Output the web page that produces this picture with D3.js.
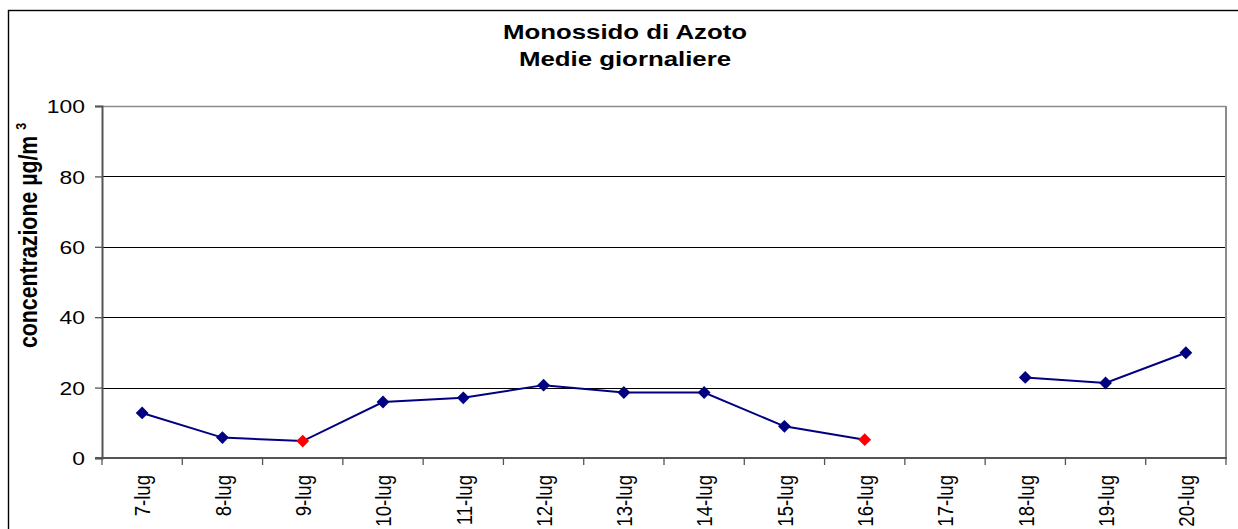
<!DOCTYPE html>
<html><head><meta charset="utf-8">
<script src="https://cdn.jsdelivr.net/npm/d3@7"></script>
<style>body{margin:0;background:#fff;}svg{display:block;font-family:"Liberation Sans",Arial,sans-serif;}</style>
</head><body>
<svg id="c" width="1238" height="529"></svg>
<script>
const categories = ["7-lug","8-lug","9-lug","10-lug","11-lug","12-lug","13-lug","14-lug","15-lug","16-lug","17-lug","18-lug","19-lug","20-lug"];
const values = [12.8, 5.8, 4.8, 15.9, 17.1, 20.7, 18.6, 18.6, 9.0, 5.2, null, 22.9, 21.3, 29.9];
const highlight = [false,false,true,false,false,false,false,false,false,true,false,false,false,false];
const yTicks = [0,20,40,60,80,100];
const titleLines = ["Monossido di Azoto","Medie giornaliere"];

const SX = 1.23; // horizontal stretch of text in the original picture
const svg = d3.select("#c");
const L = 102, R = 1226, T = 106, B = 458;
const x = d3.scaleBand().domain(categories).range([L, R]);
const y = d3.scaleLinear().domain([0,100]).range([B, T]);

// outer border
svg.append("rect").attr("x",8.5).attr("y",10.5).attr("width",1300).attr("height",600)
  .attr("fill","none").attr("stroke","#000").attr("stroke-width",1.4);

// title
svg.append("g").selectAll("text").data(titleLines).join("text")
  .attr("transform",(d,i)=>`translate(625,${39.3+i*26.4}) scale(${SX},1)`).attr("text-anchor","middle")
  .attr("font-weight","bold").attr("font-size",21).text(d=>d);

// gridlines
svg.append("g").selectAll("line").data(yTicks.filter(v=>v>0&&v<100)).join("line")
  .attr("x1",L).attr("x2",R).attr("y1",d=>Math.round(y(d))+0.5).attr("y2",d=>Math.round(y(d))+0.5)
  .attr("stroke","#000").attr("stroke-width",1);

// plot border top/right
svg.append("line").attr("x1",L).attr("x2",R).attr("y1",T+0.5).attr("y2",T+0.5).attr("stroke","#8c8c8c").attr("stroke-width",1.5);
svg.append("line").attr("x1",R).attr("x2",R).attr("y1",T).attr("y2",B).attr("stroke","#8c8c8c").attr("stroke-width",2);

// y axis
const yAxis = svg.append("g").attr("transform",`translate(${L},0)`)
  .call(d3.axisLeft(y).tickValues(yTicks).tickSize(7));
yAxis.select(".domain").attr("stroke","#555").attr("stroke-width",2);
yAxis.selectAll(".tick line").attr("stroke","#555").attr("stroke-width",1.3);
yAxis.selectAll(".tick text")
  .attr("x",0).attr("dy","0.36em").attr("text-anchor","end")
  .attr("transform",`translate(-17,0) scale(${SX},1)`)
  .attr("font-size",18.6).attr("fill","#000").attr("font-family","Liberation Sans, Arial, sans-serif");

// x axis
const xAxis = svg.append("g").attr("transform",`translate(0,${B})`)
  .call(d3.axisBottom(x).tickSize(0).tickPadding(0));
xAxis.select(".domain").remove();
svg.append("line").attr("x1",L-7).attr("x2",R+1).attr("y1",B).attr("y2",B).attr("stroke","#555").attr("stroke-width",2);
const bounds = categories.map(c=>x(c)).concat([R]);
svg.append("g").selectAll("line").data(bounds).join("line")
  .attr("x1",d=>d).attr("x2",d=>d).attr("y1",B).attr("y2",B+7)
  .attr("stroke","#555").attr("stroke-width",1.3);
xAxis.selectAll(".tick text")
  .attr("x",0).attr("y",0).attr("dy","0.36em").attr("text-anchor","end")
  .attr("transform",`translate(0,17) scale(${SX},1) rotate(-90)`)
  .attr("font-size",18.6).attr("fill","#000").attr("font-family","Liberation Sans, Arial, sans-serif");

// y title
const yt = svg.append("text").attr("transform",`translate(37,348) scale(${SX},1.04) rotate(-90)`)
  .attr("text-anchor","start").attr("font-weight","bold").attr("font-size",20.5);
yt.append("tspan").text("concentrazione µg/m ");
yt.append("tspan").attr("font-size",12).attr("dy",-9).text("3");

// line
const cx = c => x(c) + x.bandwidth()/2;
const pts = categories.map((c,i)=>({c, v: values[i], h: highlight[i]}));
const line = d3.line().defined(d=>d.v!==null).x(d=>cx(d.c)).y(d=>y(d.v));
svg.append("path").datum(pts).attr("d",line).attr("fill","none").attr("stroke","#000080").attr("stroke-width",2);

// markers
const sym = d3.symbol().type(d3.symbolDiamond2).size(105);
svg.append("g").selectAll("path").data(pts.filter(d=>d.v!==null)).join("path")
  .attr("d", sym).attr("transform",d=>`translate(${cx(d.c)},${y(d.v)})`)
  .attr("fill",d=>d.h?"#ff0000":"#000080");
</script>
</body></html>
